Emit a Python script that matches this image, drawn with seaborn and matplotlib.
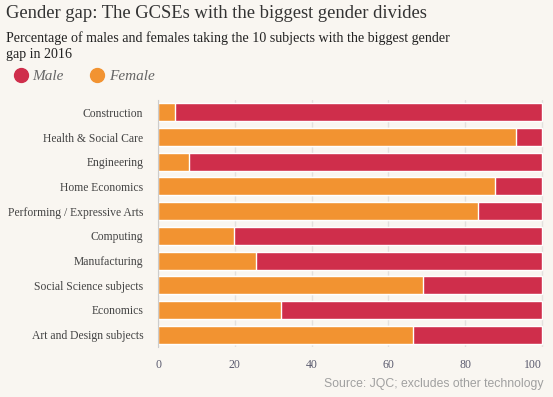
import numpy as np
import pandas as pd
import matplotlib
matplotlib.use("Agg")
import matplotlib.pyplot as plt
import seaborn as sns
from matplotlib.lines import Line2D

subjects = [
    "Construction",
    "Health & Social Care",
    "Engineering",
    "Home Economics",
    "Performing / Expressive Arts",
    "Computing",
    "Manufacturing",
    "Social Science subjects",
    "Economics",
    "Art and Design subjects",
]
female = [4.4, 93.2, 8.0, 87.8, 83.4, 19.7, 25.5, 69.1, 31.9, 66.5]
male = [95.6, 6.8, 92.0, 12.2, 16.6, 80.3, 74.5, 30.9, 68.1, 33.5]
xticks = [0, 20, 40, 60, 80, 100]

bg = "#f9f6f1"
red = "#cf2e4b"
orange = "#f29331"

sns.set_style("white")
plt.rcParams["font.family"] = ["Liberation Serif", "DejaVu Serif"]

df = pd.DataFrame({"Subject": subjects, "Female": female, "Male": male})
df["Total"] = df["Female"] + df["Male"]

fig = plt.figure(figsize=(5.53, 3.97), dpi=100, facecolor=bg)
ax = fig.add_axes([158 / 553, 1 - 347 / 397, 386 / 553, 247 / 397])
ax.set_facecolor(bg)

# male bar spans full width, female drawn on top of it
sns.barplot(data=df, y="Subject", x="Total", color=red, width=0.73,
            orient="h", ax=ax, saturation=1, zorder=2)
sns.barplot(data=df, y="Subject", x="Female", color=orange, width=0.73,
            orient="h", ax=ax, saturation=1, zorder=3)

ax.set_xlim(0, 100.5)
ax.set_ylim(len(subjects) - 0.5, -0.5)
ax.set_xticks(xticks)
ax.set_xticklabels([str(t) for t in xticks], color="#5a5a6e", fontsize=8.5)
ax.get_xticklabels()[-1].set_horizontalalignment("right")
ax.tick_params(axis="x", length=0, pad=9)
ax.tick_params(axis="y", which="major", length=0, pad=10.5, labelsize=8.4,
               labelcolor="#444444")
ax.set_yticks(np.arange(-0.5, len(subjects), 1), minor=True)
ax.tick_params(axis="y", which="minor", length=4, color="#cccccc", width=1)
ax.set_xlabel("")
ax.set_ylabel("")

ax.grid(axis="x", color="#e3e1de", linewidth=1, zorder=0)
ax.set_axisbelow(True)
for s in ["top", "right", "bottom"]:
    ax.spines[s].set_visible(False)
ax.spines["left"].set_color("#cccccc")
ax.spines["left"].set_zorder(5)

fig.text(6 / 553, 1 - 14 / 397, "Gender gap: The GCSEs with the biggest gender divides",
         fontsize=13.4, color="#333333", va="center", ha="left")
fig.text(6 / 553, 1 - 46 / 397,
         "Percentage of males and females taking the 10 subjects with the biggest gender\ngap in 2016",
         fontsize=10.1, color="#222222", va="center", ha="left", linespacing=1.3)

handles = [
    Line2D([], [], marker="o", linestyle="", markersize=10, color=red, label="Male"),
    Line2D([], [], marker="o", linestyle="", markersize=10, color=orange, label="Female"),
]
fig.legend(handles=handles, loc="center left", bbox_to_anchor=(-2 / 553, 1 - 76 / 397),
           ncol=2, frameon=False, handletextpad=0.15, columnspacing=1.6,
           handlelength=1.2, prop={"style": "italic", "size": 11},
           labelcolor="#666666")

fig.text(544 / 553, 1 - 384 / 397, "Source: JQC; excludes other technology",
         fontsize=8.8, color="#a0a0a0", ha="right", va="center",
         family=["Liberation Sans", "DejaVu Sans"])

fig.savefig("out.png", dpi=100, facecolor=bg)
